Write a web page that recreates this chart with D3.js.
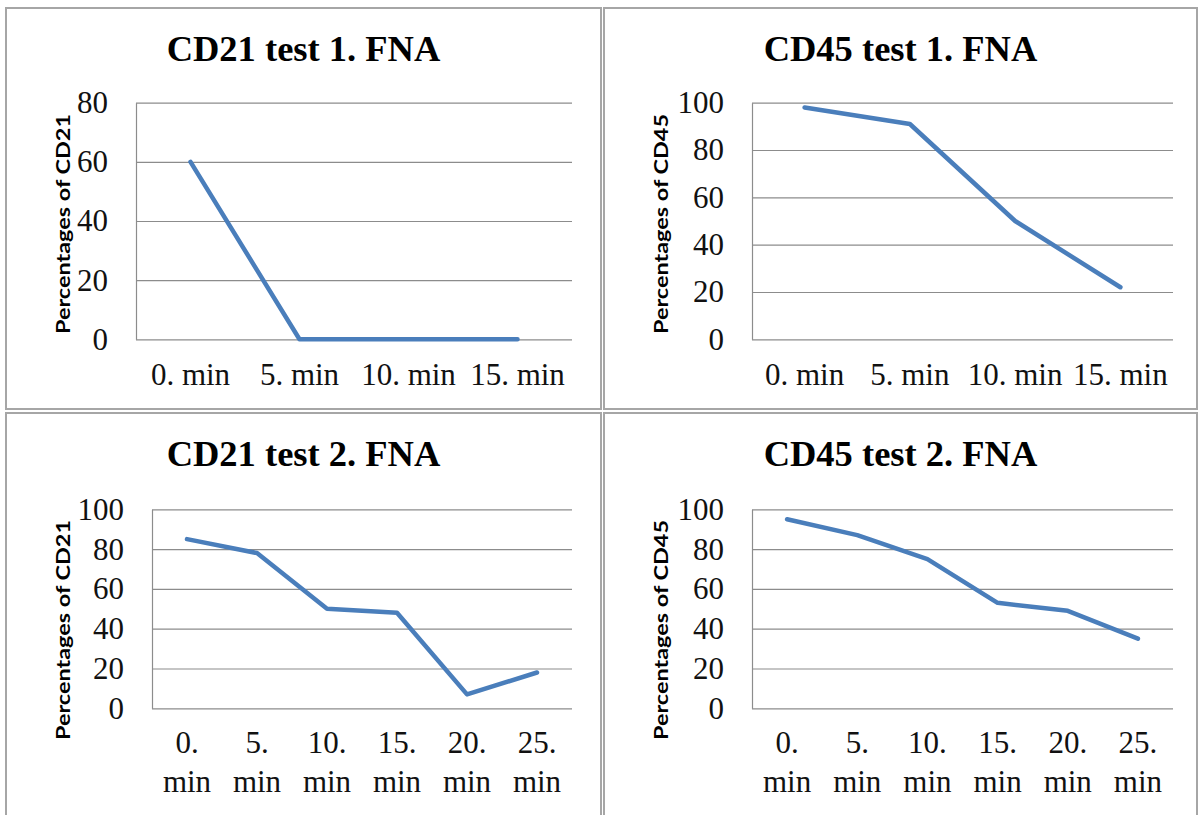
<!DOCTYPE html>
<html>
<head>
<meta charset="utf-8">
<script src="https://cdn.jsdelivr.net/npm/d3@7"></script>
<style>
  body { margin: 0; background: #fff; }
  svg { display: block; }
</style>
</head>
<body>
<div id="chart"></div>
<script>
// categories
var mins4 = ["0. min", "5. min", "10. min", "15. min"];
var mins6 = ["0. min", "5. min", "10. min", "15. min", "20. min", "25. min"];

// series values
var cd21Test1 = [60, 0, 0, 0];
var cd45Test1 = [98, 91, 50, 22];
var cd21Test2 = [85, 78, 50, 48, 7, 18];
var cd45Test2 = [95, 87, 75, 53, 49, 35];

// tick labels
var ticks80 = [0, 20, 40, 60, 80];
var ticks100 = [0, 20, 40, 60, 80, 100];

var svgWidth = 1198, svgHeight = 815;
var lineColor = "#4a7ebb";
var gridColor = "#8c8c8c";
var frameColor = "#a6a6a6";

var panels = [
  { title: "CD21 test 1. FNA", ylabel: "Percentages of CD21", cats: mins4, values: cd21Test1, ticks: ticks80,
    box: [6, 8, 601, 409], plot: [136, 102.7, 572, 339.3], labelY: 224 },
  { title: "CD45 test 1. FNA", ylabel: "Percentages of CD45", cats: mins4, values: cd45Test1, ticks: ticks100,
    box: [604, 8, 1197, 409], plot: [752, 102.7, 1173, 339.3], labelY: 224 },
  { title: "CD21 test 2. FNA", ylabel: "Percentages of CD21", cats: mins6, values: cd21Test2, ticks: ticks100,
    box: [6, 413, 601, 830], plot: [152, 509.3, 572, 708.3], labelY: 630 },
  { title: "CD45 test 2. FNA", ylabel: "Percentages of CD45", cats: mins6, values: cd45Test2, ticks: ticks100,
    box: [604, 413, 1197, 830], plot: [752, 509.3, 1173, 708.3], labelY: 630 }
];

var svg = d3.select("#chart")
  .append("svg")
  .attr("width", svgWidth)
  .attr("height", svgHeight);

panels.forEach(drawPanel);

function drawPanel(p) {
  var bx0 = p.box[0], by0 = p.box[1], bx1 = p.box[2], by1 = p.box[3];
  var px0 = p.plot[0], py0 = p.plot[1], px1 = p.plot[2], py1 = p.plot[3];
  var width = px1 - px0, height = py1 - py0;

  // frame (table cell border)
  svg.append("rect")
    .attr("x", bx0).attr("y", by0)
    .attr("width", bx1 - bx0).attr("height", by1 - by0)
    .attr("fill", "none")
    .attr("stroke", frameColor)
    .attr("stroke-width", 2);

  // title
  svg.append("text")
    .attr("x", (bx0 + bx1) / 2)
    .attr("y", by0 + 53)
    .attr("text-anchor", "middle")
    .attr("font-family", "'Liberation Serif', 'Times New Roman', serif")
    .attr("font-weight", "bold")
    .attr("font-size", 36.5)
    .attr("fill", "#000")
    .text(p.title);

  // y axis label
  svg.append("text")
    .attr("transform", "translate(" + (bx0 + 58) + "," + p.labelY + ") rotate(-90)")
    .attr("text-anchor", "middle")
    .attr("dy", "0.35em")
    .attr("font-family", "Lato, 'Open Sans', sans-serif")
    .attr("font-weight", "bold")
    .attr("font-size", 18)
    .attr("textLength", 220)
    .attr("lengthAdjust", "spacingAndGlyphs")
    .attr("fill", "#000")
    .text(p.ylabel);

  var g = svg.append("g")
    .attr("transform", "translate(" + px0 + "," + py0 + ")");

  var x = d3.scaleBand()
    .domain(p.cats)
    .range([0, width])
    .padding(0);

  var y = d3.scaleLinear()
    .domain([0, d3.max(p.ticks)])
    .range([height, 0]);

  // gridlines
  var grid = g.append("g")
    .call(d3.axisLeft(y).tickValues(p.ticks).tickSize(-width).tickFormat(""));
  grid.select(".domain").remove();
  grid.selectAll("line")
    .attr("stroke", gridColor)
    .attr("stroke-width", 1.2);

  // y axis
  var yAxis = g.append("g")
    .call(d3.axisLeft(y).tickValues(p.ticks).tickSize(0).tickSizeOuter(0).tickPadding(28));
  yAxis.select(".domain")
    .attr("stroke", gridColor)
    .attr("stroke-width", 1.2);
  yAxis.selectAll("text")
    .attr("font-family", "'Liberation Serif', 'Times New Roman', serif")
    .attr("font-size", 31)
    .attr("fill", "#111");

  // x labels, wrapped when the band is too narrow
  var bw = x.bandwidth();
  var xl = g.append("g")
    .attr("font-family", "'Liberation Serif', 'Times New Roman', serif")
    .attr("font-size", 31)
    .attr("fill", "#111")
    .attr("text-anchor", "middle");

  p.cats.forEach(function(c) {
    var t = xl.append("text")
      .attr("x", x(c) + bw / 2)
      .attr("y", height + 46)
      .text(c);
    if (t.node().getComputedTextLength() > bw) {
      t.text(null);
      c.split(" ").forEach(function(w, i) {
        t.append("tspan")
          .attr("x", x(c) + bw / 2)
          .attr("y", height + 45 + i * 39)
          .text(w);
      });
    }
  });

  var line = d3.line()
    .x(function(d, i) { return x(p.cats[i]) + bw / 2; })
    .y(function(d) { return y(d); });

  g.append("path")
    .datum(p.values)
    .attr("fill", "none")
    .attr("stroke", lineColor)
    .attr("stroke-width", 4.5)
    .attr("stroke-linejoin", "round")
    .attr("stroke-linecap", "round")
    .attr("d", line);
}
</script>
</body>
</html>
